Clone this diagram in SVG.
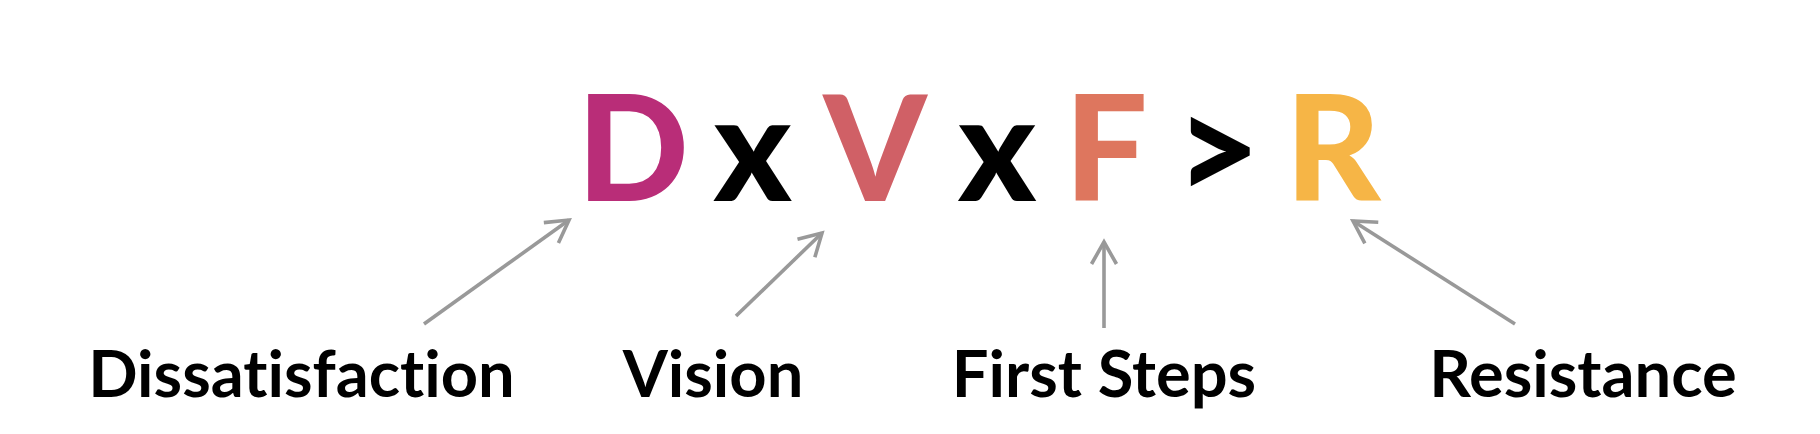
<svg xmlns="http://www.w3.org/2000/svg" width="1820" height="434" viewBox="0 0 1820 434">
<defs>
<style>
.big{font-family:Lato,"Liberation Sans",sans-serif;font-weight:900;font-size:147px;text-anchor:middle}
.lbl{font-family:Lato,"Liberation Sans",sans-serif;font-weight:700;font-size:65px;text-anchor:middle;fill:#000;font-variant-ligatures:none;font-feature-settings:"liga" 0,"dlig" 0}
.conn{stroke:#999999;stroke-width:3.6;fill:none;marker-end:url(#ah)}
</style>
<marker id="ah" markerUnits="userSpaceOnUse" markerWidth="60" markerHeight="60" viewBox="-30 -30 60 60" refX="0" refY="0" orient="auto">
<path d="M-22,-12.5 L0,0 L-22,12.5" fill="none" stroke="#999999" stroke-width="3.6"/>
</marker>
</defs>
<rect width="1820" height="434" fill="#ffffff"/>
<g id="formula">
<text class="big" x="633" y="200.5" fill="#B92D78">D</text>
<text class="big" x="752.5" y="200.5" fill="#000">x</text>
<text class="big" x="875" y="200.5" fill="#D06066">V</text>
<text class="big" x="997" y="200.5" fill="#000">x</text>
<text class="big" x="1106" y="200.5" fill="#DE765E">F</text>
<text class="big" x="1218" y="200.5" fill="#000">&gt;</text>
<text class="big" x="1333" y="200.5" fill="#F6B546">R</text>
</g>
<g id="node-dissatisfaction"><text class="lbl" x="301.5" y="397">Dissatisfaction</text></g>
<g id="node-vision"><text class="lbl" x="713" y="397">Vision</text></g>
<g id="node-firststeps"><text class="lbl" x="1104" y="397">First Steps</text></g>
<g id="node-resistance"><text class="lbl" x="1583" y="397">Resistance</text></g>
<g id="connectors">
<line class="conn" x1="424" y1="324" x2="569" y2="220"/>
<line class="conn" x1="736" y1="316" x2="822" y2="233"/>
<line class="conn" x1="1104" y1="328" x2="1104" y2="242"/>
<line class="conn" x1="1515" y1="324" x2="1353" y2="221"/>
</g>
</svg>
